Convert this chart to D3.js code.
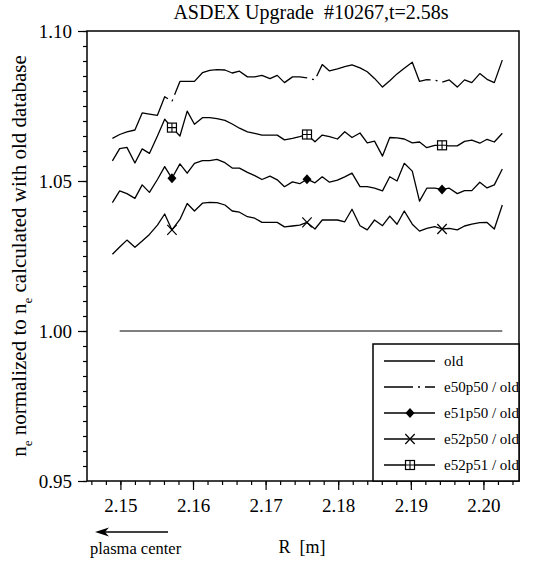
<!DOCTYPE html>
<html>
<head>
<meta charset="utf-8">
<script src="https://cdn.jsdelivr.net/npm/d3@7"></script>
<style>
	body { margin: 0; background: #fff; }
	svg { font-family: "Liberation Serif", "Times New Roman", serif; }
</style>
</head>
<body>
<div id="chart"></div>
<script>
const titleText = "ASDEX Upgrade  #10267,t=2.58s";

// R [m] of the profile points
const radius = [
	2.1489, 2.1499, 2.1509, 2.152, 2.153, 2.154, 2.1551, 2.1561, 2.1571, 2.1582,
	2.1592, 2.1602, 2.1613, 2.1623, 2.1633, 2.1644, 2.1654, 2.1664, 2.1675, 2.1685,
	2.1695, 2.1706, 2.1716, 2.1726, 2.1737, 2.1747, 2.1757, 2.1768, 2.1778, 2.1788,
	2.1799, 2.1809, 2.1819, 2.183, 2.184, 2.185, 2.1861, 2.1871, 2.1881, 2.1891,
	2.1902, 2.1912, 2.1922, 2.1933, 2.1943, 2.1953, 2.1964, 2.1974, 2.1984, 2.1995,
	2.2005, 2.2015, 2.2026,
];

const e50p50 = [
	1.0642, 1.0655, 1.0664, 1.067, 1.0727, 1.0723, 1.0719, 1.0781, 1.0765, 1.0832,
	1.0832, 1.0832, 1.0861, 1.0869, 1.0871, 1.087, 1.086, 1.0866, 1.0847, 1.0847,
	1.0852, 1.0841, 1.0852, 1.0828, 1.0847, 1.0847, 1.0844, 1.0837, 1.0888, 1.0867,
	1.0874, 1.0881, 1.0887, 1.0877, 1.0864, 1.0842, 1.0813, 1.0834, 1.0857, 1.0876,
	1.0896, 1.0832, 1.0838, 1.0836, 1.0829, 1.0837, 1.0813, 1.0837, 1.0828, 1.0858,
	1.0839, 1.0828, 1.0903,
];

const e52p51 = [
	1.0567, 1.0608, 1.0612, 1.056, 1.0607, 1.0592, 1.065, 1.0706, 1.0678, 1.065,
	1.0733, 1.0689, 1.0711, 1.0711, 1.0708, 1.0702, 1.069, 1.0676, 1.0664, 1.0659,
	1.0653, 1.0653, 1.0653, 1.0637, 1.0642, 1.0648, 1.0655, 1.0631, 1.0653, 1.0648,
	1.064, 1.0664, 1.0645, 1.066, 1.0627, 1.0633, 1.0583, 1.0645, 1.0644, 1.064,
	1.0627, 1.063, 1.0611, 1.0619, 1.0619, 1.0617, 1.0617, 1.0632, 1.0636, 1.0626,
	1.0639, 1.063, 1.0659,
];

const e51p50 = [
	1.0428, 1.0467, 1.0458, 1.0442, 1.0487, 1.0462, 1.0505, 1.0548, 1.0509, 1.0557,
	1.0526, 1.0559, 1.0568, 1.0568, 1.0572, 1.0561, 1.0543, 1.0543, 1.0529, 1.0518,
	1.0505, 1.0516, 1.0504, 1.0481, 1.0497, 1.0491, 1.0506, 1.0494, 1.0514, 1.0496,
	1.0503, 1.0514, 1.0526, 1.0481, 1.0481, 1.0476, 1.0467, 1.0514, 1.05, 1.0559,
	1.0533, 1.0433, 1.0476, 1.0476, 1.0472, 1.0476, 1.0458, 1.0468, 1.0468, 1.0496,
	1.0477, 1.0487, 1.054,
];

const e52p50 = [
	1.0256, 1.028, 1.0303, 1.0279, 1.03, 1.0322, 1.0353, 1.039, 1.0337, 1.0372,
	1.0425, 1.04, 1.0426, 1.0429, 1.0428, 1.042, 1.04, 1.0396, 1.0381, 1.0376,
	1.0362, 1.0362, 1.0362, 1.0347, 1.035, 1.0353, 1.0362, 1.034, 1.037, 1.037,
	1.037, 1.0364, 1.0406, 1.0351, 1.0337, 1.037, 1.0351, 1.0383, 1.0356, 1.04,
	1.0356, 1.0333, 1.0342, 1.0348, 1.034, 1.0342, 1.0337, 1.035, 1.0356, 1.0361,
	1.0362, 1.034, 1.042,
];

// reference database, flat at 1
const oldRadius = [2.1499, 2.2026];
const oldRatio = [1.0, 1.0];

// points that carry a symbol
const markerIndex = [8, 26, 44];

const xTicks = [2.15, 2.16, 2.17, 2.18, 2.19, 2.2];
const yTicks = [0.95, 1.0, 1.05, 1.1];
const legendLabels = ["old", "e50p50 / old", "e51p50 / old", "e52p50 / old", "e52p51 / old"];

const width = 542,
	height = 563;
const plot = { left: 87, right: 519, top: 31, bottom: 481 };
const dashDot = "155,5,2,5";

var svg = d3
	.select("#chart")
	.append("svg")
	.attr("width", width)
	.attr("height", height);

var x = d3.scaleLinear().domain([2.1454, 2.2049]).range([plot.left, plot.right]);
var y = d3.scaleLinear().domain([0.95, 1.1]).range([plot.bottom, plot.top]);

// axes: minor ticks first, then major with labels
svg.append("g")
	.attr("transform", "translate(" + plot.left + ",0)")
	.call(d3.axisLeft(y).tickValues(d3.range(0.95, 1.1001, 0.005)).tickSize(4).tickFormat(""))
	.call((g) => g.select(".domain").remove());

svg.append("g")
	.attr("class", "yaxis")
	.attr("transform", "translate(" + plot.left + ",0)")
	.call(d3.axisLeft(y).tickValues(yTicks).tickSize(9).tickPadding(6).tickFormat(d3.format(".2f")))
	.call((g) => g.select(".domain").remove());

svg.append("g")
	.attr("transform", "translate(0," + plot.bottom + ")")
	.call(d3.axisBottom(x).tickValues(d3.range(2.146, 2.2049, 0.002)).tickSize(4).tickFormat(""))
	.call((g) => g.select(".domain").remove());

svg.append("g")
	.attr("class", "xaxis")
	.attr("transform", "translate(0," + plot.bottom + ")")
	.call(d3.axisBottom(x).tickValues(xTicks).tickSize(9).tickPadding(9).tickFormat(d3.format(".2f")))
	.call((g) => g.select(".domain").remove());

svg.selectAll(".tick line").attr("stroke", "#000").attr("stroke-width", 1.2);
svg.selectAll(".tick text")
	.attr("fill", "#000")
	.style("font-family", '"Liberation Serif", serif')
	.style("font-size", "19px");

svg.append("rect")
	.attr("x", plot.left)
	.attr("y", plot.top)
	.attr("width", plot.right - plot.left)
	.attr("height", plot.bottom - plot.top)
	.attr("fill", "none")
	.attr("stroke", "#000")
	.attr("stroke-width", 1.5);

// curves
var line = d3
	.line()
	.x((d, i) => x(radius[i]))
	.y((d) => y(d));

var series = [
	{ values: e50p50, marker: null, dash: dashDot, offset: 73 },
	{ values: e52p51, marker: "square" },
	{ values: e51p50, marker: "diamond" },
	{ values: e52p50, marker: "cross" },
];

svg.append("path")
	.datum(oldRatio)
	.attr("d", d3.line().x((d, i) => x(oldRadius[i])).y((d) => y(d)))
	.attr("fill", "none")
	.attr("stroke", "#000")
	.attr("stroke-width", 1);

var curves = svg.append("g").attr("class", "curves");

series.forEach((s) => {
	var p = curves
		.append("path")
		.datum(s.values)
		.attr("d", line)
		.attr("fill", "none")
		.attr("stroke", "#000")
		.attr("stroke-width", 1.3)
		.attr("stroke-linejoin", "round");
	if (s.dash) p.attr("stroke-dasharray", s.dash).attr("stroke-dashoffset", s.offset);
	if (s.marker) {
		markerIndex.forEach((i) => drawMarker(curves, s.marker, x(radius[i]), y(s.values[i])));
	}
});

function drawMarker(g, type, cx, cy) {
	if (type === "diamond") {
		g.append("path")
			.attr("d", `M${cx},${cy - 5}L${cx + 4.5},${cy}L${cx},${cy + 5}L${cx - 4.5},${cy}Z`)
			.attr("fill", "#000");
	} else if (type === "cross") {
		g.append("path")
			.attr("d", `M${cx - 4.7},${cy - 5}L${cx + 4.7},${cy + 5}M${cx - 4.7},${cy + 5}L${cx + 4.7},${cy - 5}`)
			.attr("stroke", "#000")
			.attr("stroke-width", 1.2)
			.attr("fill", "none");
	} else if (type === "square") {
		g.append("rect")
			.attr("x", cx - 4.5)
			.attr("y", cy - 4.5)
			.attr("width", 9)
			.attr("height", 9)
			.attr("fill", "#fff")
			.attr("stroke", "#000")
			.attr("stroke-width", 1.2);
		g.append("path")
			.attr("d", `M${cx - 4.5},${cy}H${cx + 4.5}M${cx},${cy - 4.5}V${cy + 4.5}`)
			.attr("stroke", "#000")
			.attr("stroke-width", 1.1);
	}
}

// legend
var legend = svg.append("g").attr("class", "legend");
legend
	.append("rect")
	.attr("x", 373)
	.attr("y", 344)
	.attr("width", plot.right - 373)
	.attr("height", plot.bottom - 344)
	.attr("fill", "#fff")
	.attr("stroke", "#000")
	.attr("stroke-width", 1.5);

var legendMarkers = [null, null, "diamond", "cross", "square"];
legendLabels.forEach((label, i) => {
	var ly = 361 + i * 26;
	var l = legend
		.append("line")
		.attr("x1", 384)
		.attr("x2", 435)
		.attr("y1", ly)
		.attr("y2", ly)
		.attr("stroke", "#000")
		.attr("stroke-width", 1.3);
	if (i === 1) l.attr("stroke-dasharray", dashDot).attr("stroke-dashoffset", 126);
	if (legendMarkers[i]) drawMarker(legend, legendMarkers[i], 410, ly);
	legend
		.append("text")
		.attr("x", 444)
		.attr("y", ly + 5)
		.style("font-size", "15px")
		.text(label);
});

// titles
svg.append("text")
	.attr("x", 311)
	.attr("y", 19)
	.attr("text-anchor", "middle")
	.style("font-size", "20px")
	.style("white-space", "pre")
	.text(titleText);

var ylab = svg
	.append("text")
	.attr("transform", "translate(26," + (plot.top + plot.bottom) / 2 + ") rotate(-90)")
	.attr("text-anchor", "middle")
	.style("font-size", "21px");
ylab.append("tspan").text("n");
ylab.append("tspan").attr("dy", 6).style("font-size", "13px").text("e");
ylab.append("tspan").attr("dy", -6).text(" normalized to n");
ylab.append("tspan").attr("dy", 6).style("font-size", "13px").text("e");
ylab.append("tspan").attr("dy", -6).text(" calculated with old database");

svg.append("text")
	.attr("x", 302)
	.attr("y", 553)
	.attr("text-anchor", "middle")
	.style("font-size", "18px")
	.style("white-space", "pre")
	.text("R  [m]");

svg.append("text")
	.attr("x", 90)
	.attr("y", 554)
	.style("font-size", "16.5px")
	.text("plasma center");

svg.append("line")
	.attr("x1", 104)
	.attr("x2", 168)
	.attr("y1", 532)
	.attr("y2", 532)
	.attr("stroke", "#000")
	.attr("stroke-width", 1.5);
svg.append("path").attr("d", "M95,532L109,527.5L105,532L109,536.5Z").attr("fill", "#000");
</script>
</body>
</html>
